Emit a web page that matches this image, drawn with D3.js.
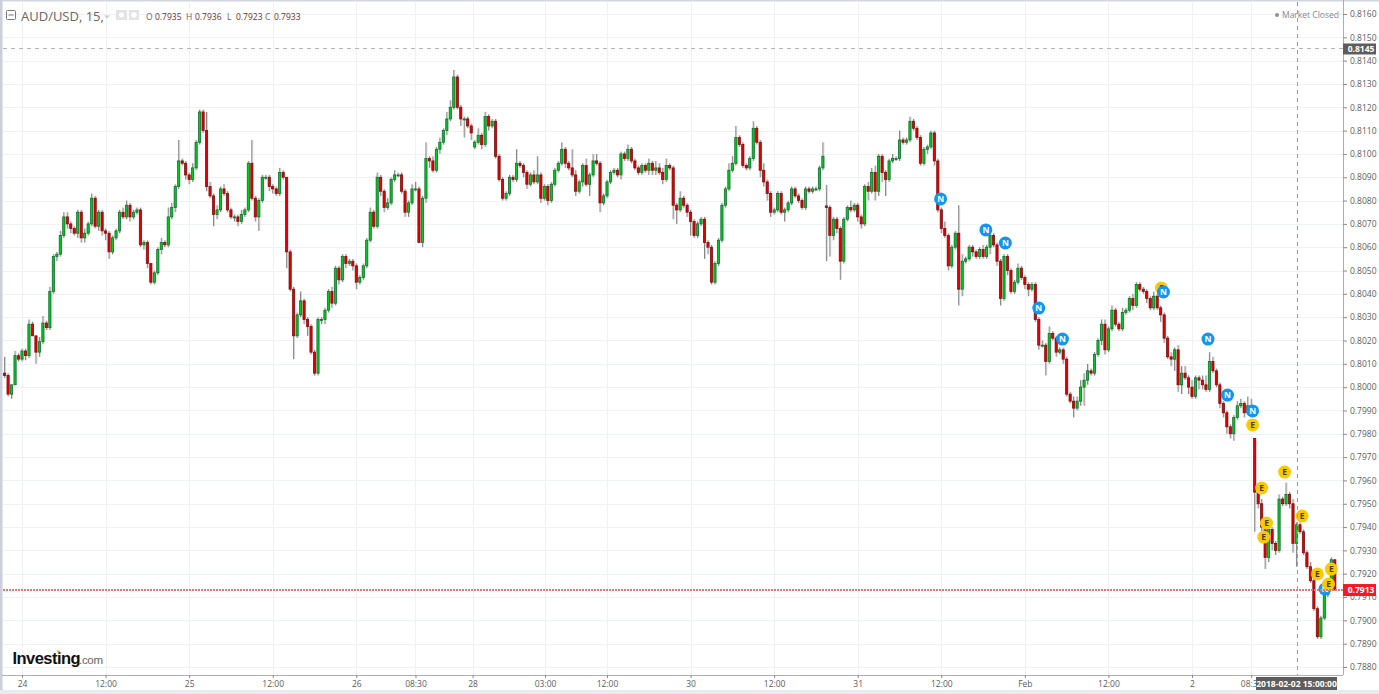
<!DOCTYPE html>
<html><head><meta charset="utf-8">
<script src="https://cdn.jsdelivr.net/npm/d3@7/dist/d3.min.js"></script>
<style>html,body{margin:0;padding:0;background:#fff;overflow:hidden}svg{display:block}text{font-family:"Open Sans",sans-serif}</style>
</head><body><div id="c"></div>
<script>
// Bars are 30-minute samples, prices in pips (1 pip = 0.0001)
const closes=[
8005,7997,8001,8013.5,8012,8015.5,8013.5,8027,8022,8015,8019.5,8027.5,8025.5,8041,8056,8057,8065,8073,8070,8068,
8066,8075,8064,8066,8070,8081,8069,8075,8067,8066,8058,8064,8067,8075,8073,8078,8073,8075,8076,8061,
8062,8053,8045,8049,8059,8062,8061,8073,8077,8086,8097,8096,8091,8089,8094,8105,8118,8110,8086,8082,
8074,8076,8085,8083,8076,8073,8073,8071,8074,8076,8096,8081,8073,8080,8090,8090,8086,8085,8083,8092,
8090,8058,8042,8022,8031,8037,8029,8026,8015,8006,8029,8029,8033,8041,8036,8051,8046,8056,8053,8054,
8052,8045,8047,8052,8063,8075,8069,8090,8084,8077,8079,8089,8091,8091,8084,8075,8079,8085,8085,8062,
8081,8098,8097,8093,8102,8105,8110,8115,8120,8133,8120,8115,8115,8112,8109,8105,8108,8104,8116,8112,
8114,8099,8089,8081,8083,8090,8089,8096,8095,8092,8087,8091,8088,8091,8081,8086,8080,8087,8093,8096,
8102,8096,8094,8091,8084,8088,8095,8087,8091,8097,8096,8079,8082,8088,8092,8093,8091,8100,8098,8102,
8097,8094,8092,8095,8093,8096,8093,8094,8092,8089,8095,8094,8078,8076,8081,8078,8075,8071,8065,8070,
8072,8062,8060,8045,8053,8063,8078,8085,8093,8096,8107,8104,8095,8094,8098,8111,8105,8093,8088,8083,
8075,8076,8083,8075,8076,8079,8085,8082,8080,8077,8085,8084,8085,8085,8094,8099,8077,8065,8072,8068,
8054,8072,8077,8076,8078,8073,8070,8086,8084,8092,8084,8099,8092,8089,8097,8098,8098,8106,8105,8106,
8114,8111,8107,8096,8102,8103,8109,8097,8076,8068,8065,8052,8060,8066,8042,8054,8055,8060,8058,8056,
8059,8056,8060,8065,8061,8054,8038,8056,8050,8041,8045,8051,8047,8044,8042,8044,8029,8018,8018,8011,
8023,8021,8015,8016,8012,7997,7994,7991,7994,8000,8003,8007,8006,8014,8020,8027,8016,8025,8033,8027,
8025,8032,8033,8038,8035,8044,8042,8041,8038,8034,8039,8034,8031,8021,8013,8012,8016,8001,8006,8004,
8000,7996,8004,8003,8001,7999,8011,8007,8001,7993,7989,7983,7980,7987,7992,7993,7989,7992,7991,7955,
7950,7940,7927,7939,7933,7930,7952,7950,7954,7950,7933,7941,7938,7929,7923,7917,7905,7893,7901,7911,
7914,7926,7913];
const upperWicks=[
7,1,0,2,1,1,1,2,1,0,2,3,1,2,1,1,2,2,2,1,
1,1,1,2,1,2,1,1,1,1,1,1,1,1,2,2,1,1,1,1,
1,1,0,1,1,2,1,4,2,1,9,1,1,1,2,1,1,1,8,2,
1,2,1,2,1,1,1,1,2,1,1,10,1,1,1,1,1,1,1,2,
1,0,1,1,1,4,1,1,1,1,1,1,1,1,2,1,1,1,1,1,
1,1,1,1,1,2,1,2,1,1,2,1,2,1,1,1,1,2,3,1,
1,7,1,2,1,2,1,3,3,3,1,1,1,1,1,1,3,1,2,1,
1,1,1,1,1,1,1,6,1,1,1,1,2,8,1,1,1,1,1,1,
3,1,1,8,2,1,1,3,1,3,3,1,1,1,1,1,1,1,1,2,
1,1,1,1,1,2,1,3,2,2,3,1,1,1,3,1,1,1,1,1,
1,1,1,1,1,1,1,1,3,3,5,1,1,1,1,3,1,1,3,1,
1,1,1,1,1,1,1,1,1,1,1,1,1,1,1,6,9,1,1,1,
1,1,1,3,1,1,1,1,2,2,3,1,1,1,1,2,1,4,1,1,
2,1,1,1,1,1,1,1,1,1,3,1,1,1,12,3,1,1,1,1,
1,2,1,1,1,1,1,1,1,1,1,2,1,1,1,1,1,1,2,1,
3,1,1,1,1,1,1,2,2,3,3,3,1,1,1,2,2,1,2,1,
1,2,1,1,2,1,1,1,1,1,2,1,1,1,1,2,1,2,3,3,
1,3,1,1,2,4,4,2,1,1,1,1,1,1,2,2,1,4,3,0,
1,2,1,1,1,1,2,1,5,1,2,1,1,1,1,2,1,1,1,1,
1,1,0];
const lowerWicks=[
1,1,2,0,1,1,2,1,0,5,2,1,1,1,1,2,1,1,2,2,
1,2,2,2,1,1,1,2,2,3,3,1,1,1,1,1,2,1,1,1,
2,2,1,1,1,2,1,1,1,2,1,1,2,2,1,1,1,1,2,1,
5,2,1,1,1,1,2,2,1,1,1,1,2,6,1,1,2,2,1,1,
1,7,1,10,1,1,2,4,1,1,1,2,2,1,2,1,2,1,2,1,
2,3,1,1,1,1,1,1,2,2,1,1,1,1,1,2,2,1,1,0,
2,2,3,1,1,2,1,2,1,1,1,3,8,1,3,1,1,2,1,2,
1,1,1,1,1,1,1,1,1,2,2,1,1,1,2,1,2,1,1,1,
1,2,1,1,2,1,2,1,5,1,1,4,1,1,1,1,1,2,1,1,
1,1,1,1,1,2,2,2,1,2,1,1,6,6,1,1,2,6,1,1,
1,7,3,1,1,1,1,1,1,1,1,1,1,1,1,1,1,3,2,3,
2,1,1,1,4,1,1,1,1,1,1,1,1,1,1,1,23,9,2,2,
8,1,1,1,1,2,2,1,4,1,4,2,4,7,1,1,1,1,1,1,
1,1,1,1,1,2,1,2,1,2,1,2,1,1,7,3,1,1,2,1,
1,1,1,3,1,2,3,1,2,1,1,1,1,2,3,1,1,2,1,6,
1,1,2,1,2,1,1,4,1,2,8,2,1,1,1,2,2,1,1,1,
1,1,1,1,2,1,1,1,2,1,1,1,3,2,1,3,5,3,4,1,
3,1,1,4,2,1,1,1,1,2,2,3,2,3,1,1,2,1,1,17,
2,2,5,2,3,2,1,1,1,2,4,10,1,1,1,1,1,1,1,1,
1,1,0];
const firstOpen=8006;
const gapIndex=[135,236,359];   // bars that open away from the previous close
const gapOpen=[8103,8077.7,7978];
const firstHour=-2.5, barHours=0.5;

const priceTicks=[8160,8150,8140,8130,8120,8110,8100,8090,8080,8070,8060,8050,8040,8030,8020,8010,8000,7990,7980,7970,7960,7950,7940,7930,7920,7910,7900,7890,7880];
const timeHours=[0,12,24,36,48,56.5,64.7,75.1,84,96,108,120,132,144,156,168,176.5];
const timeLabels=["24","12:00","25","12:00","26","08:30","28","03:00","12:00","30","12:00","31","12:00","Feb","12:00","2","08:30"];

const eventKind=["N","N","N","N","N","E","N","N","N","N","E","E","E","E","E","E","E","E","N","E"];
const eventHour=[131.9,138.4,141.2,146,149.4,163.6,163.9,170.3,173.1,176.7,176.7,178,178.7,178.3,181.3,183.8,186,188,187.1,187.6];
const eventPrice=[8080.7,8067.4,8061.8,8033.9,8020.6,8042.5,8040.8,8020.6,7996.6,7989.8,7983.8,7956.7,7941.7,7935.7,7963.6,7944.7,7919.9,7922,7913.4,7915.6];

const crossHour=183.2, crossPrice=8145, lastPrice=7913;
const ohlcKeys=["O","H","L","C"], ohlcVals=["0.7935","0.7936","0.7923","0.7933"];

const W=1379,H=694, pipsToPrice=p=>p/10000;
const axisX=1343, axisY=675, plotL=3, plotT=2;
const snap=v=>Math.floor(v)+.5;
const svg=d3.select("#c").append("svg").attr("width",W).attr("height",H);
const x=d3.scaleLinear().domain([0,168]).range([22,1192]);
const y=d3.scaleLinear().domain([0.788,0.816]).range([667,14]);

// frame
svg.append("rect").attr("x",0).attr("y",0).attr("width",W).attr("height",H).attr("fill","#fff");
svg.append("rect").attr("x",0).attr("y",690).attr("width",W).attr("height",4).attr("fill","#e9ebf2");
svg.append("rect").attr("x",0).attr("y",0).attr("width",W).attr("height",1.5).attr("fill","#d3d5e0");
svg.append("rect").attr("x",0).attr("y",0).attr("width",2.5).attr("height",690).attr("fill","#ccced9");

// grid
const g=svg.append("g");
g.selectAll(".h").data(priceTicks).join("line").attr("x1",plotL).attr("x2",axisX)
 .attr("y1",d=>Math.round(y(pipsToPrice(d)))+.5).attr("y2",d=>Math.round(y(pipsToPrice(d)))+.5).attr("stroke","#f0f1f4");
g.selectAll(".v").data(timeHours).join("line").attr("y1",plotT).attr("y2",axisY)
 .attr("x1",d=>Math.round(x(d))+.5).attr("x2",d=>Math.round(x(d))+.5).attr("stroke","#f0f1f4");

// candles
const bars=closes.map((c,i)=>{
  const gi=gapIndex.indexOf(i);
  const o=gi>=0?gapOpen[gi]:(i?closes[i-1]:firstOpen);
  return {h:firstHour+i*barHours,o,c,hi:Math.max(o,c)+upperWicks[i],lo:Math.min(o,c)-lowerWicks[i]};
});
const cg=svg.append("g");
cg.selectAll(".shadow").data(bars).join("line")
 .attr("x1",d=>x(d.h)+1).attr("x2",d=>x(d.h)+1)
 .attr("y1",d=>y(pipsToPrice(d.hi))).attr("y2",d=>y(pipsToPrice(d.lo))).attr("stroke","#d8d8d8").attr("stroke-width",1);
cg.selectAll(".wick").data(bars).join("line")
 .attr("x1",d=>x(d.h)).attr("x2",d=>x(d.h))
 .attr("y1",d=>y(pipsToPrice(d.hi))).attr("y2",d=>y(pipsToPrice(d.lo))).attr("stroke","#858585").attr("stroke-width",1);
cg.selectAll(".body").data(bars).join("rect")
 .attr("x",d=>x(d.h)-1.1).attr("width",2.2)
 .attr("y",d=>y(pipsToPrice(Math.max(d.o,d.c))))
 .attr("height",d=>Math.max(1,Math.abs(y(pipsToPrice(d.o))-y(pipsToPrice(d.c)))))
 .attr("fill",d=>d.c>=d.o?"#00cc1c":"#e40000")
 .attr("stroke",d=>d.c>=d.o?"#0c6a2c":"#7e0a0a").attr("stroke-width",.75);

// events
const ev=svg.append("g").selectAll("g").data(eventKind.map((k,i)=>({k,h:eventHour[i],p:eventPrice[i]}))).join("g")
 .attr("transform",d=>`translate(${x(d.h)},${y(pipsToPrice(d.p))})`);
ev.append("circle").attr("r",6.5).attr("fill",d=>d.k=="N"?"#1396f2":"#f7c90a");
ev.append("text").attr("text-anchor","middle").attr("y",3).attr("font-size",8.5).attr("font-weight",700)
 .attr("fill",d=>d.k=="N"?"#fff":"#4a3a10").text(d=>d.k);

// last-price and crosshair lines
svg.append("line").attr("x1",plotL).attr("x2",axisX).attr("y1",Math.round(y(pipsToPrice(lastPrice)))).attr("y2",Math.round(y(pipsToPrice(lastPrice))))
 .attr("stroke","#f4706a").attr("stroke-width",2).attr("stroke-dasharray","2 1");
svg.append("line").attr("x1",plotL).attr("x2",axisX).attr("y1",snap(y(pipsToPrice(crossPrice)))).attr("y2",snap(y(pipsToPrice(crossPrice))))
 .attr("stroke","#b5b5b5").attr("stroke-dasharray","4 4");
svg.append("line").attr("y1",plotT).attr("y2",axisY).attr("x1",snap(x(crossHour))).attr("x2",snap(x(crossHour)))
 .attr("stroke","#9a9a9a").attr("stroke-dasharray","4 4");

// axes
const ya=svg.append("g").attr("transform",`translate(${axisX},0)`)
 .call(d3.axisRight(y).tickValues(priceTicks.map(pipsToPrice)).tickFormat(d3.format(".4f")).tickSize(4).tickPadding(3));
ya.select(".domain").attr("d",`M0.5,0V${axisY}`).attr("stroke","#aeaeae");
ya.selectAll("line").attr("stroke","#8a8a8a");
ya.selectAll("text").attr("font-size",8.5).attr("fill","#5c5c5c").style("font-family",'"Open Sans",sans-serif');
const xa=svg.append("g").attr("transform",`translate(0,${axisY})`)
 .call(d3.axisBottom(x).tickValues(timeHours).tickFormat((d,i)=>timeLabels[i]).tickSize(3).tickPadding(3));
xa.select(".domain").attr("d",`M2,0.5H${axisX}`).attr("stroke","#aeaeae");
xa.selectAll("line").attr("stroke","#8a8a8a");
xa.selectAll("text").attr("font-size",8.5).attr("fill","#5c5c5c").style("font-family",'"Open Sans",sans-serif');

// tags
function tag(px,py,w,h,fill,txt,fs,tx){
 svg.append("rect").attr("x",px).attr("y",py).attr("width",w).attr("height",h).attr("fill",fill);
 svg.append("text").attr("x",tx).attr("y",py+h/2+3).attr("text-anchor","middle").attr("font-size",fs).attr("font-weight",700).attr("fill","#fff").text(txt);
}
tag(axisX,y(pipsToPrice(crossPrice))-5.5,33,11,"#5d5d5d",d3.format(".4f")(pipsToPrice(crossPrice)),8.5,axisX+18);
tag(axisX,y(pipsToPrice(lastPrice))-6,33,12,"#ee1c25",d3.format(".4f")(pipsToPrice(lastPrice)),8.5,axisX+18);
tag(1256,677,81,13,"#5d5d5d","2018-02-02 15:00:00",8.5,1296.5);

// legend header
const hd=svg.append("g");
hd.append("rect").attr("x",6.5).attr("y",10.5).attr("width",9).attr("height",9).attr("rx",1).attr("fill","none").attr("stroke","#777");
hd.append("line").attr("x1",8.5).attr("x2",13.5).attr("y1",15).attr("y2",15).attr("stroke","#777");
hd.append("text").attr("x",21).attr("y",21).attr("font-size",13).attr("fill","#666").text("AUD/USD, 15,");
hd.append("path").attr("d","M104,15.5h6l-3,3z").attr("fill","#ccc");
hd.append("rect").attr("x",116).attr("y",10).attr("width",11).attr("height",10).attr("fill","#e3e3e3");
hd.append("rect").attr("x",129).attr("y",10).attr("width",10).attr("height",10).attr("fill","#e3e3e3");
hd.append("circle").attr("cx",121.5).attr("cy",15).attr("r",2.5).attr("fill","#fff");
hd.append("circle").attr("cx",134).attr("cy",15).attr("r",2.8).attr("fill","#fff");
const keyX=[146,186,227,265];
ohlcKeys.forEach((k,i)=>{
 hd.append("text").attr("x",keyX[i]).attr("y",20).attr("font-size",8.5).attr("fill","#666").text(k);
 hd.append("text").attr("x",keyX[i]+9).attr("y",20).attr("font-size",8.5).attr("fill","#7b2a2a").text(ohlcVals[i]);
});
svg.append("circle").attr("cx",1277).attr("cy",15).attr("r",2).attr("fill","#909090");
svg.append("text").attr("x",1282).attr("y",18).attr("font-size",8.5).attr("fill","#8a8a8a").text("Market Closed");

// logo
const lg=svg.append("g");
lg.append("text").attr("x",12.5).attr("y",664).attr("font-size",16.5).attr("font-weight",700).attr("letter-spacing",-0.55)
 .attr("fill","#111").style("font-family",'"Liberation Sans",sans-serif').text("Investing");
lg.append("text").attr("x",79).attr("y",664).attr("font-size",11.5).attr("letter-spacing",-0.3).attr("fill","#666")
 .style("font-family",'"Liberation Sans",sans-serif').text(".com");
lg.append("circle").attr("cx",58.5).attr("cy",651.5).attr("r",1.3).attr("fill","#f5a623");
</script></body></html>
